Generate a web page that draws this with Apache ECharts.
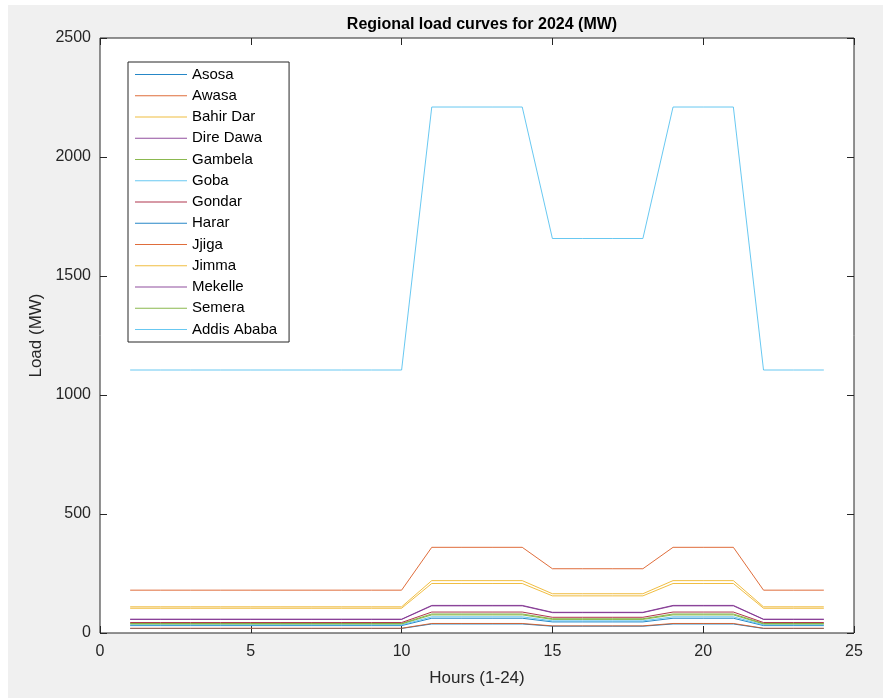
<!DOCTYPE html>
<html>
<head>
<meta charset="utf-8">
<script src="https://cdn.jsdelivr.net/npm/echarts@6/dist/echarts.min.js"></script>
<style>
  html, body { margin: 0; padding: 0; background: #ffffff; }
  #bg { position: absolute; left: 8px; top: 5px; width: 875px; height: 693px; background: #f0f0f0; }
  #chart { position: absolute; left: 0; top: 0; width: 883px; height: 698px; }
</style>
</head>
<body>
<div id="bg"></div>
<div id="chart"></div>
<script>
const hours = [1,2,3,4,5,6,7,8,9,10,11,12,13,14,15,16,17,18,19,20,21,22,23,24];
const regionNames = ["Asosa","Awasa","Bahir Dar","Dire Dawa","Gambela","Goba","Gondar","Harar","Jjiga","Jimma","Mekelle","Semera","Addis Ababa"];
const asosa     = [31,31,31,31,31,31,31,31,31,31,62,62,62,62,46.5,46.5,46.5,46.5,62,62,62,31,31,31];
const awasa     = [180,180,180,180,180,180,180,180,180,180,360,360,360,360,270,270,270,270,360,360,360,180,180,180];
const bahirDar  = [110,110,110,110,110,110,110,110,110,110,220,220,220,220,165,165,165,165,220,220,220,110,110,110];
const direDawa  = [58,58,58,58,58,58,58,58,58,58,116,116,116,116,87,87,87,87,116,116,116,58,58,58];
const gambela   = [40,40,40,40,40,40,40,40,40,40,80,80,80,80,60,60,60,60,80,80,80,40,40,40];
const goba      = [34,34,34,34,34,34,34,34,34,34,68,68,68,68,51,51,51,51,68,68,68,34,34,34];
const gondar    = [44,44,44,44,44,44,44,44,44,44,88,88,88,88,66,66,66,66,88,88,88,44,44,44];
const harar     = [19,19,19,19,19,19,19,19,19,19,38,38,38,38,28.5,28.5,28.5,28.5,38,38,38,19,19,19];
const jjiga     = [20,20,20,20,20,20,20,20,20,20,40,40,40,40,30,30,30,30,40,40,40,20,20,20];
const jimma     = [104,104,104,104,104,104,104,104,104,104,208,208,208,208,156,156,156,156,208,208,208,104,104,104];
const mekelle   = [57,57,57,57,57,57,57,57,57,57,114,114,114,114,85.5,85.5,85.5,85.5,114,114,114,57,57,57];
const semera    = [38,38,38,38,38,38,38,38,38,38,76,76,76,76,57,57,57,57,76,76,76,38,38,38];
const addis     = [1105,1105,1105,1105,1105,1105,1105,1105,1105,1105,2210,2210,2210,2210,1657.5,1657.5,1657.5,1657.5,2210,2210,2210,1105,1105,1105];
const seriesValues = [asosa, awasa, bahirDar, direDawa, gambela, goba, gondar, harar, jjiga, jimma, mekelle, semera, addis];
const xTicks = [0,5,10,15,20,25];
const yTicks = [0,500,1000,1500,2000,2500];

const palette = ['#0072BD','#D95319','#EDB120','#7E2F8E','#77AC30','#4DBEEE','#A2142F'];
const font = '"Liberation Sans", Arial, sans-serif';
const axisColor = '#262626';

const chart = echarts.init(document.getElementById('chart'), null, {renderer: 'canvas'});

const series = regionNames.map((name, i) => ({
  name: name,
  type: 'line',
  data: hours.map((h, j) => [h, seriesValues[i][j]]),
  symbol: 'none',
  smooth: false,
  lineStyle: { width: 1, color: palette[i % 7], opacity: 0.85 },
  itemStyle: { color: palette[i % 7], opacity: 0.85 },
  xAxisIndex: 0,
  yAxisIndex: 0,
  z: 3
}));

const baseX = {
  type: 'value', min: xTicks[0], max: xTicks[xTicks.length-1], interval: 5,
  axisLine: { show: false, onZero: false },
  axisTick: { show: true, inside: true, length: 7, lineStyle: { color: axisColor, width: 1 } },
  splitLine: { show: false }
};
const baseY = {
  type: 'value', min: yTicks[0], max: yTicks[yTicks.length-1], interval: 500,
  axisLine: { show: false, onZero: false },
  axisTick: { show: true, inside: true, length: 7, lineStyle: { color: axisColor, width: 1 } },
  splitLine: { show: false }
};

const lineIcon = 'path://M0,0 M0,6.5 L52,6.5 L52,7.6 L0,7.6 Z M52,14';

chart.setOption({
  backgroundColor: 'transparent',
  animation: false,
  color: palette,
  title: {
    text: 'Regional load curves for 2024 (MW)',
    left: 477, top: 12, textAlign: 'center',
    textStyle: { fontFamily: font, fontSize: 16, fontWeight: 'bold', color: '#000' }
  },
  grid: {
    left: 100, right: 29, top: 38, bottom: 65,
    show: true, backgroundColor: '#ffffff', borderColor: axisColor, borderWidth: 1
  },
  legend: {
    orient: 'vertical', left: 128, top: 62,
    itemWidth: 52, itemHeight: 14, itemGap: 6.25,
    padding: [5, 12, 5, 7],
    backgroundColor: '#ffffff', borderColor: axisColor, borderWidth: 1,
    textStyle: { fontFamily: font, fontSize: 15, color: '#000' },
    data: regionNames.map(n => ({ name: n, icon: lineIcon }))
  },
  xAxis: [
    Object.assign({}, baseX, {
      position: 'bottom',
      name: 'Hours (1-24)', nameLocation: 'middle', nameGap: 37,
      nameTextStyle: { fontFamily: font, fontSize: 17, color: axisColor },
      axisLabel: { margin: 11, fontFamily: font, fontSize: 16, color: axisColor }
    }),
    Object.assign({}, baseX, { position: 'top', axisLabel: { show: false } })
  ],
  yAxis: [
    Object.assign({}, baseY, {
      position: 'left',
      name: 'Load (MW)', nameLocation: 'middle', nameGap: 37,
      nameTextStyle: { fontFamily: font, fontSize: 17, color: axisColor },
      axisLabel: { margin: 9, fontFamily: font, fontSize: 16, color: axisColor, formatter: v => String(v) }
    }),
    Object.assign({}, baseY, { position: 'right', axisLabel: { show: false } })
  ],
  series: series
});
</script>
</body>
</html>
